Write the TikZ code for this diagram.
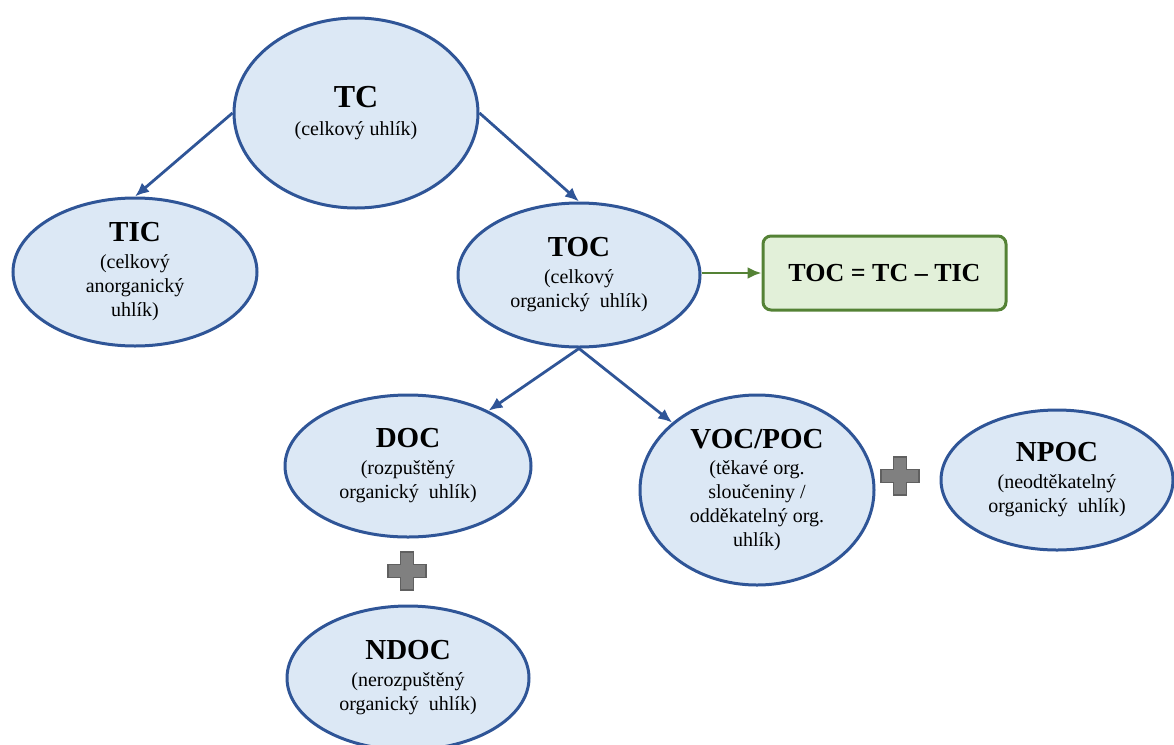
\documentclass[tikz,border=0pt]{standalone}
\usepackage{fontspec}
\setmainfont{Liberation Serif}
\usepackage{xcolor}
\usetikzlibrary{arrows.meta,positioning,shapes.geometric}

\definecolor{ovalfill}{RGB}{220,232,245}
\definecolor{ovalline}{RGB}{47,85,151}
\definecolor{boxfill}{RGB}{226,240,217}
\definecolor{boxline}{RGB}{84,130,53}
\definecolor{plusfill}{RGB}{128,128,128}
\definecolor{plusline}{RGB}{96,96,96}

\newcommand{\carbonlabel}[2][29]{{\bfseries\fontsize{#1}{24}\selectfont #2}}

\begin{document}
\begin{tikzpicture}[
  x=1pt, y=-1pt,
  oval/.style={ellipse, draw=ovalline, fill=ovalfill, line width=3pt,
    inner sep=0pt, align=center, font=\fontsize{20}{24}\selectfont},
  formula/.style={draw=boxline, fill=boxfill, rounded corners=8pt,
    line width=3pt, minimum width=243pt, minimum height=74pt,
    font=\bfseries\fontsize{26}{30}\selectfont},
  arr/.style={-{Latex[length=14pt,width=12pt]}, line width=2.8pt, draw=ovalline},
  plus/.style={fill=plusfill, draw=plusline, line width=1.2pt}
]
\useasboundingbox (0,0) rectangle (1174,744);

\node[oval, minimum width=244pt, minimum height=190pt] (tc) at (356,113)
  {\carbonlabel[32]{TC}\\[4pt](celkový uhlík)};
\node[oval, minimum width=244pt, minimum height=148pt] (tic) at (135,272)
  {\carbonlabel{TIC}\\[3pt](celkový\\anorganický\\uhlík)};
\node[oval, minimum width=242pt, minimum height=144pt] (toc) at (579,275)
  {\carbonlabel{TOC}\\[3pt](celkový\\organický\ \ uhlík)};
\node[formula, right=60pt of toc, yshift=2pt] (eq) {TOC = TC – TIC};
\node[oval, minimum width=246pt, minimum height=142pt] (doc) at (408,466)
  {\carbonlabel{DOC}\\[3pt](rozpuštěný\\organický\ \ uhlík)};
\node[oval, minimum width=242pt, minimum height=144pt, below=66pt of doc] (ndoc)
  {\carbonlabel{NDOC}\\[3pt](nerozpuštěný\\organický\ \ uhlík)};
\node[oval, minimum width=234pt, minimum height=190pt] (vocpoc) at (757,490)
  {\carbonlabel{VOC/POC}\\[2pt](těkavé org.\\sloučeniny /\\odděkatelný org.\\uhlík)};
\node[oval, minimum width=232pt, minimum height=140pt] (npoc) at (1057,480)
  {\carbonlabel{NPOC}\\[3pt](neodtěkatelný\\organický\ \ uhlík)};

\draw[arr] (tc.west) -- (tic.north);
\draw[arr] (tc.east) -- (toc.north);
\draw[arr] (toc.south) -- (doc);
\draw[arr] (toc.south) -- (vocpoc);
\draw[arr, draw=boxline] (eq.west -| toc.east) -- (eq.west);

% plus signs
\foreach \px/\py in {407/571, 900/476}
  \filldraw[plus] (\px,\py) ++(-6.5,-19) -- ++(13,0) -- ++(0,12.5) -- ++(12.5,0)
    -- ++(0,13) -- ++(-12.5,0) -- ++(0,12.5) -- ++(-13,0) -- ++(0,-12.5)
    -- ++(-12.5,0) -- ++(0,-13) -- ++(12.5,0) -- cycle;
\end{tikzpicture}
\end{document}
